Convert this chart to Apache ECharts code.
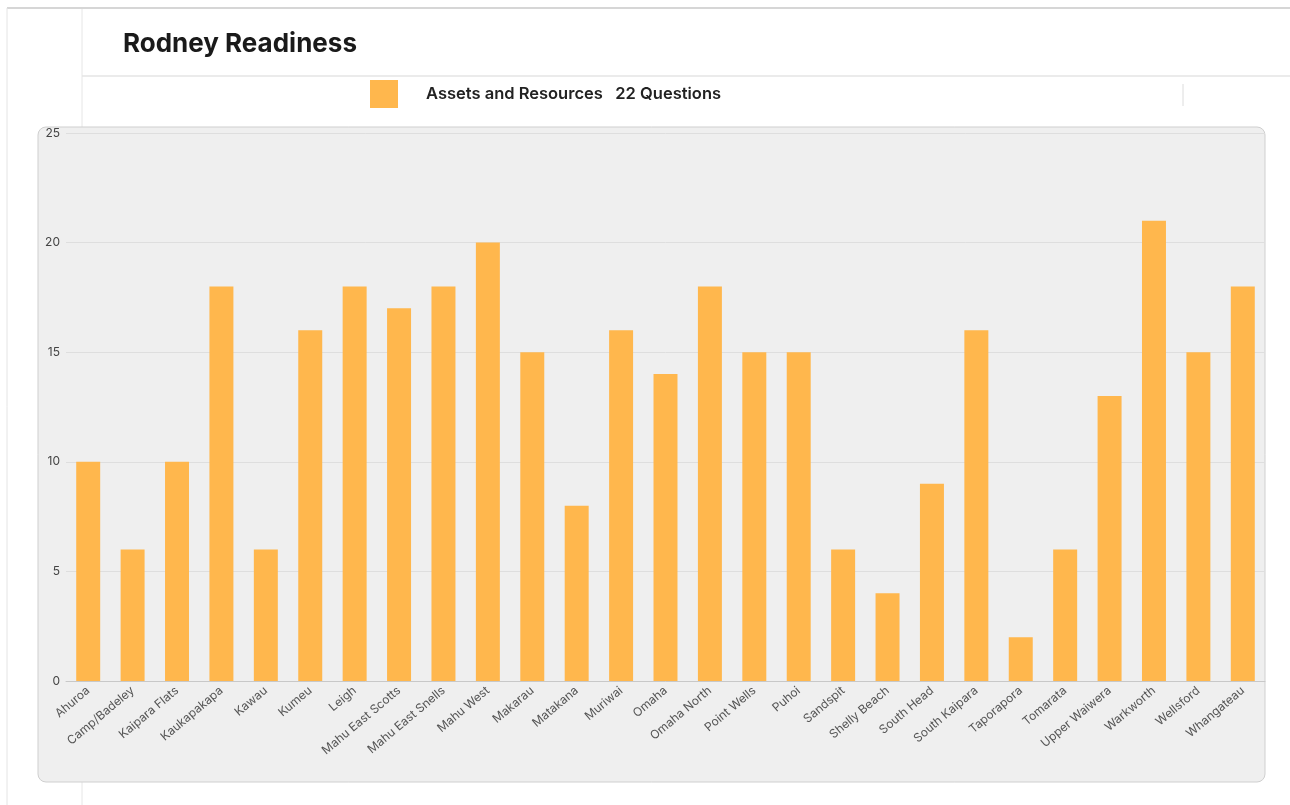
<!DOCTYPE html>
<html>
<head>
<meta charset="utf-8">
<title>Rodney Readiness</title>
<script src="https://cdn.jsdelivr.net/npm/echarts@6/dist/echarts.min.js"></script>
<style>
  html, body { margin: 0; padding: 0; background: #ffffff; }
  #chart { width: 1290px; height: 805px; }
</style>
</head>
<body>
<div id="chart"></div>
<script>
// Communities in the Rodney area
const categories = [
  'Ahuroa', 'Camp/Badeley', 'Kaipara Flats', 'Kaukapakapa', 'Kawau', 'Kumeu',
  'Leigh', 'Mahu East Scotts', 'Mahu East Snells', 'Mahu West', 'Makarau',
  'Matakana', 'Muriwai', 'Omaha', 'Omaha North', 'Point Wells', 'Puhoi',
  'Sandspit', 'Shelly Beach', 'South Head', 'South Kaipara', 'Taporapora',
  'Tomarata', 'Upper Waiwera', 'Warkworth', 'Wellsford', 'Whangateau'
];

// Assets and Resources score (out of 22 questions)
const assetsScores = [
  10, 6, 10, 18, 6, 16,
  18, 17, 18, 20, 15,
  8, 16, 14, 18, 15, 15,
  6, 4, 9, 16, 2,
  6, 13, 21, 15, 18
];

const seriesName = 'Assets and Resources   22 Questions';
const yTicks = { min: 0, max: 25, interval: 5 };

const chart = echarts.init(document.getElementById('chart'));

chart.setOption({
  animation: false,
  backgroundColor: '#ffffff',
  textStyle: { fontFamily: 'Inter, "Noto Sans", sans-serif' },
  graphic: [
    // page frame
    { type: 'line', shape: { x1: 7, y1: 8, x2: 1290, y2: 8 },
      style: { stroke: '#d6d6d6', lineWidth: 2 }, z: -10 },
    { type: 'line', shape: { x1: 7, y1: 8, x2: 7, y2: 805 },
      style: { stroke: '#e4e4e4', lineWidth: 1 }, z: -10 },
    { type: 'line', shape: { x1: 82, y1: 9, x2: 82, y2: 805 },
      style: { stroke: '#e6e6e6', lineWidth: 1 }, z: -10 },
    { type: 'line', shape: { x1: 82, y1: 76, x2: 1290, y2: 76 },
      style: { stroke: '#e4e4e4', lineWidth: 1.5 }, z: -10 },
    { type: 'line', shape: { x1: 1183, y1: 84, x2: 1183, y2: 106 },
      style: { stroke: '#dcdcdc', lineWidth: 1 }, z: -10 },
    // chart panel
    { type: 'rect', shape: { x: 38, y: 127, width: 1227, height: 655, r: 8 },
      style: { fill: '#efefef', stroke: '#cfcfcf', lineWidth: 1 }, z: -5 }
  ],
  title: {
    text: 'Rodney Readiness',
    left: 118,
    top: 26,
    textStyle: { fontSize: 26, fontWeight: 'bold', color: '#1a1a1a',
      fontFamily: 'Inter, sans-serif' }
  },
  legend: {
    left: 365,
    top: 75,
    itemWidth: 28,
    itemHeight: 28,
    itemGap: 10,
    icon: 'rect',
    textStyle: { fontSize: 16.5, fontWeight: 600, color: '#222', padding: [0, 0, 0, 23] },
    data: [seriesName]
  },
  grid: { left: 66, right: 25, top: 133, bottom: 124 },
  xAxis: {
    type: 'category',
    data: categories,
    axisLine: { show: true, lineStyle: { color: '#c8c8c8', width: 1 } },
    axisTick: { show: false },
    axisLabel: {
      interval: 0,
      rotate: 40,
      fontSize: 12,
      color: '#555',
      margin: 8
    }
  },
  yAxis: {
    type: 'value',
    min: yTicks.min,
    max: yTicks.max,
    interval: yTicks.interval,
    axisLine: { show: false },
    axisTick: { show: false },
    axisLabel: { fontSize: 12, color: '#444', margin: 6 },
    splitLine: { lineStyle: { color: '#dedede', width: 1 } }
  },
  series: [{
    name: seriesName,
    type: 'bar',
    data: assetsScores,
    barWidth: '54%',
    itemStyle: { color: '#ffb74d' }
  }]
});
</script>
</body>
</html>
